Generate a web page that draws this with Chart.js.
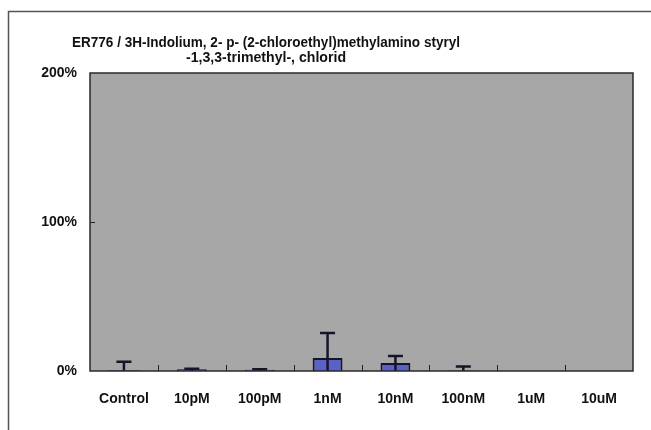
<!DOCTYPE html>
<html>
<head>
<meta charset="utf-8">
<script src="https://cdn.jsdelivr.net/npm/chart.js@4"></script>
<style>
  html, body { margin: 0; padding: 0; background: #fff; }
  #wrap { width: 651px; height: 430px; position: relative; }
</style>
</head>
<body>
<div id="wrap"><canvas id="chart" width="651" height="430"></canvas></div>
<script>
const categories = ['Control', '10pM', '100pM', '1nM', '10nM', '100nM', '1uM', '10uM'];
const means = [0.5, 1.2, 0.8, 8.7, 5.4, 0.4, 0, 0];
const errors = [5.7, 0.3, 0.3, 16.8, 4.7, 2.6, 0, 0];
const yTicks = [0, 100, 200];
const titleLines = ['ER776 / 3H-Indolium, 2- p- (2-chloroethyl)methylamino styryl', '-1,3,3-trimethyl-, chlorid'];

const FAMILY = '"Liberation Sans", Arial, sans-serif';

// frame, plot background, title, ticks and error bars
const decor = {
    id: 'decor',
    beforeDraw(chart) {
        const ctx = chart.ctx;
        const a = chart.chartArea;
        ctx.save();
        ctx.fillStyle = '#ffffff';
        ctx.fillRect(0, 0, chart.width, chart.height);
        // outer frame (continues off the page right and bottom)
        ctx.strokeStyle = '#555';
        ctx.lineWidth = 1.5;
        ctx.beginPath();
        ctx.moveTo(8.5, chart.height);
        ctx.lineTo(8.5, 11.5);
        ctx.lineTo(chart.width, 11.5);
        ctx.stroke();
        // plot area
        ctx.fillStyle = '#a7a7a7';
        ctx.fillRect(a.left, a.top, a.right - a.left, a.bottom - a.top);
        // title, squeezed to the reference widths
        ctx.fillStyle = '#111';
        ctx.font = 'bold 14px ' + FAMILY;
        ctx.textAlign = 'center';
        ctx.textBaseline = 'middle';
        const cx = 266;
        [[titleLines[0], 43, 388], [titleLines[1], 58, 160]].forEach(([t, ty, tw]) => {
            ctx.save();
            const w = ctx.measureText(t).width;
            ctx.translate(cx, ty);
            ctx.scale(tw / w, 1);
            ctx.fillText(t, 0, 0);
            ctx.restore();
        });
        ctx.restore();
    },
    afterDatasetsDraw(chart) {
        const ctx = chart.ctx;
        const a = chart.chartArea;
        const x = chart.scales.x;
        const y = chart.scales.y;
        ctx.save();
        // error bars
        ctx.strokeStyle = '#15152a';
        ctx.lineWidth = 2.5;
        means.forEach((m, i) => {
            if (!errors[i]) return;
            const px = x.getPixelForValue(i);
            const top = y.getPixelForValue(m + errors[i]);
            ctx.beginPath();
            ctx.moveTo(px, y.getPixelForValue(0));
            ctx.lineTo(px, top);
            ctx.moveTo(px - 7.5, top);
            ctx.lineTo(px + 7.5, top);
            ctx.stroke();
        });
        // x ticks between categories, pointing into the plot
        ctx.strokeStyle = '#222';
        ctx.lineWidth = 1;
        for (let i = 1; i < categories.length; i++) {
            const px = Math.round((x.getPixelForValue(i - 1) + x.getPixelForValue(i)) / 2) + 0.5;
            ctx.beginPath();
            ctx.moveTo(px, a.bottom);
            ctx.lineTo(px, a.bottom - 6);
            ctx.stroke();
        }
        // y tick at 100%
        const py = Math.round(y.getPixelForValue(100)) + 0.5;
        ctx.beginPath();
        ctx.moveTo(a.left, py);
        ctx.lineTo(a.left + 5, py);
        ctx.stroke();
        // plot border
        ctx.strokeStyle = '#2a2a2a';
        ctx.lineWidth = 1.5;
        ctx.strokeRect(a.left, a.top, a.right - a.left, a.bottom - a.top);
        ctx.restore();
    }
};

new Chart(document.getElementById('chart'), {
    type: 'bar',
    data: {
        labels: categories,
        datasets: [{
            data: means,
            backgroundColor: '#5a62c8',
            borderColor: '#15152a',
            borderWidth: 2,
            borderSkipped: 'start',
            barPercentage: 0.44,
            categoryPercentage: 1
        }]
    },
    options: {
        responsive: false,
        animation: false,
        layout: { padding: { left: 30, top: 73, right: 18, bottom: 20 } },
        plugins: {
            legend: { display: false },
            title: { display: false },
            tooltip: { enabled: false }
        },
        scales: {
            x: {
                grid: { display: false },
                border: { display: false },
                ticks: {
                    color: '#111',
                    font: { family: FAMILY, size: 14, weight: 'bold' },
                    padding: 12,
                    maxRotation: 0
                },
                afterFit(s) { s.height = 39; }
            },
            y: {
                min: 0,
                max: 200,
                grid: { display: false, drawTicks: false },
                border: { display: false },
                afterBuildTicks(s) { s.ticks = yTicks.map(v => ({ value: v })); },
                ticks: {
                    color: '#111',
                    font: { family: FAMILY, size: 14, weight: 'bold' },
                    padding: 13,
                    callback: v => v + '%'
                },
                afterFit(s) { s.width = 60; }
            }
        }
    },
    plugins: [decor]
});
</script>
</body>
</html>
